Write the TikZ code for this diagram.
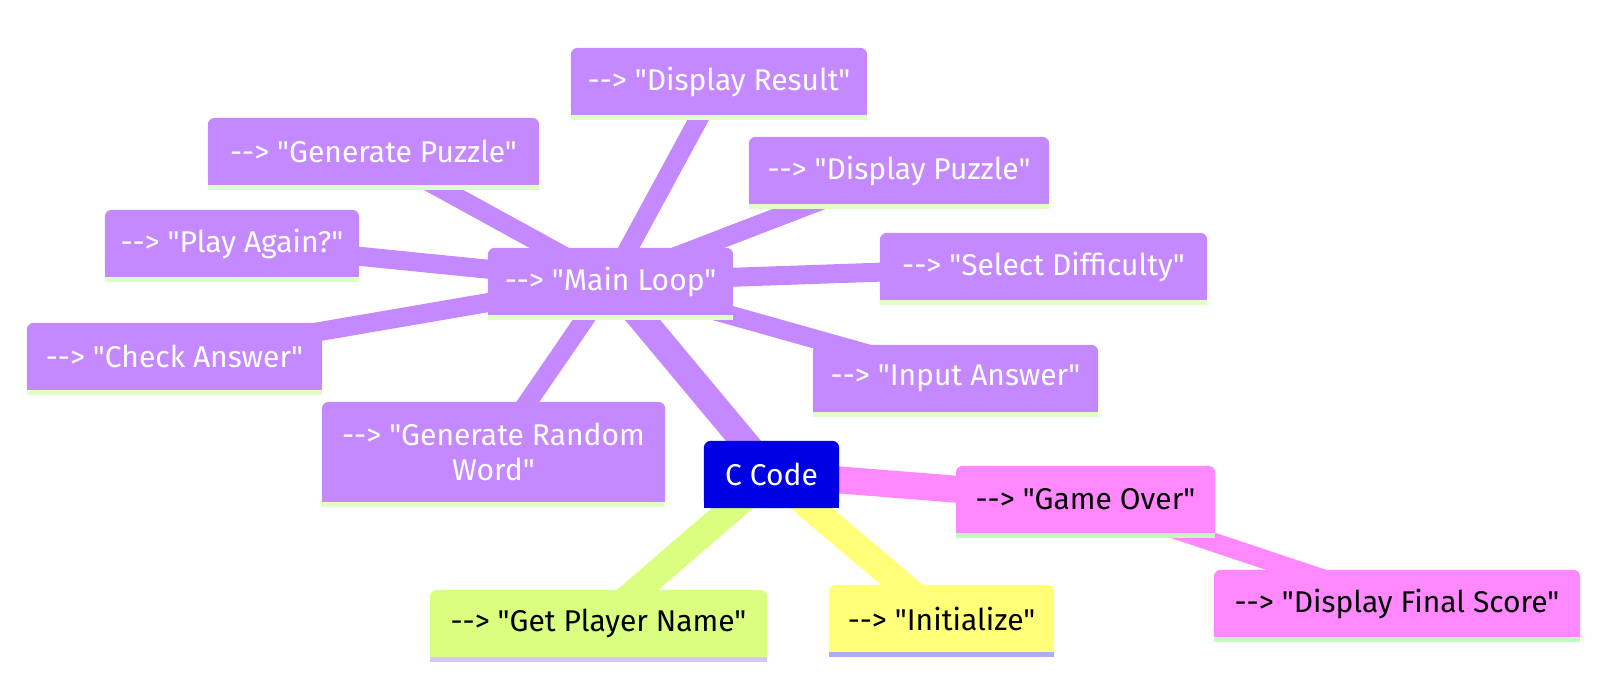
\documentclass[tikz,border=0pt]{standalone}
\usepackage{fontspec}
\setmainfont{Fira Sans}[Ligatures=TeXOff]

\definecolor{rootblue}{RGB}{0,0,228}
\definecolor{lilac}{RGB}{196,136,255}
\definecolor{lime}{RGB}{218,255,128}
\definecolor{lemon}{RGB}{255,255,120}
\definecolor{pinkish}{RGB}{255,136,255}
\definecolor{lilacbar}{RGB}{224,255,200}
\definecolor{limebar}{RGB}{214,196,255}
\definecolor{lemonbar}{RGB}{172,172,245}
\definecolor{pinkbar}{RGB}{192,255,192}

\pgfdeclarelayer{edges}
\pgfdeclarelayer{boxes}
\pgfsetlayers{edges,boxes,main}

\begin{document}
\begin{tikzpicture}[
    x=1pt, y=-1pt,
    every node/.style={font=\fontsize{30}{35}\selectfont},
    topic/.style={minimum width=#1, minimum height=67pt, inner sep=0pt, align=center, text=white},
    dark/.style={text=black},
    trunk/.style={line width=27pt, draw=#1},
    link/.style={line width=19pt, draw=#1}
]
\useasboundingbox (0,0) rectangle (1600,696);

% root and first level
\node[topic=135pt] (root) at (771.5,474.5) {C Code};
\node[topic=245pt] (main) at (610.5,281.5) {--> "Main Loop"};
\node[topic=259pt, dark] (over) at (1085.5,499.5) {--> "Game Over"};
\node[topic=337pt, dark] (name) at (598.5,623.5) {--> "Get Player Name"};
\node[topic=225pt, dark] (init) at (941.5,618.5) {--> "Initialize"};

% second level
\node[topic=296pt] (disres) at (719,81.5) {--> "Display Result"};
\node[topic=331pt] (genpuz) at (373.5,151.5) {--> "Generate Puzzle"};
\node[topic=300pt] (dispuz) at (899,170.5) {--> "Display Puzzle"};
\node[topic=254pt] (again) at (232,243.5) {--> "Play Again?"};
\node[topic=327pt] (diff) at (1043.5,266.5) {--> "Select Difficulty"};
\node[topic=295pt] (check) at (174.5,356.5) {--> "Check Answer"};
\node[topic=285pt] (input) at (955.5,378.5) {--> "Input Answer"};
\node[topic=343pt, minimum height=100pt] (genword) at (493.5,452) {--> "Generate Random\\Word"};
\node[topic=366pt, dark] (final) at (1397,603.5) {--> "Display Final Score"};

\begin{pgfonlayer}{edges}
\draw[trunk=lilac] (root.center) -- (main.center);
\draw[trunk=pinkish] (root.center) -- (over.center);
\draw[trunk=lime] (root.center) -- (name.center);
\draw[trunk=lemon] (root.center) -- (init.center);
\foreach \n in {disres,genpuz,dispuz,again,diff,check,input,genword}
    \draw[link=lilac] (main.center) -- (\n.center);
\draw[link=pinkish] (over.center) -- (final.center);
\end{pgfonlayer}

\begin{pgfonlayer}{boxes}
\fill[rootblue, rounded corners=7pt] (root.south west) rectangle (root.north east);
\fill[rootblue] (root.south west) rectangle (root.east);
\foreach \n/\c/\b in {main/lilac/lilacbar, disres/lilac/lilacbar, genpuz/lilac/lilacbar,
    dispuz/lilac/lilacbar, again/lilac/lilacbar, diff/lilac/lilacbar, check/lilac/lilacbar,
    input/lilac/lilacbar, genword/lilac/lilacbar, over/pinkish/pinkbar, final/pinkish/pinkbar,
    name/lime/limebar, init/lemon/lemonbar} {
    \fill[\c, rounded corners=7pt] (\n.south west) rectangle (\n.north east);
    \fill[\c] (\n.south west) rectangle (\n.east);
    \fill[\b] (\n.south west) rectangle ([yshift=-5pt]\n.south east);
}
\end{pgfonlayer}
\end{tikzpicture}
\end{document}
